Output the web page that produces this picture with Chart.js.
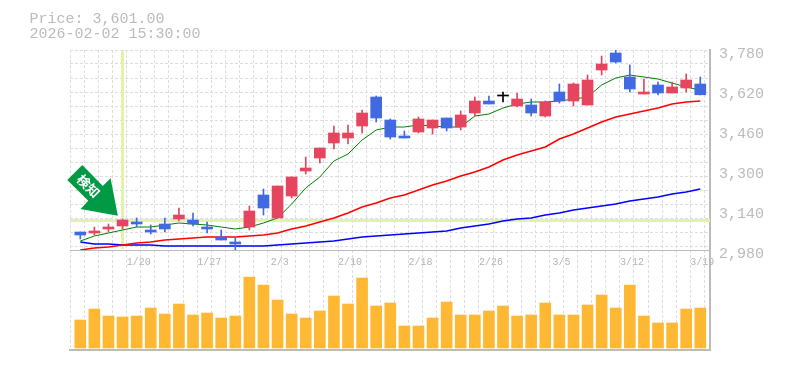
<!DOCTYPE html>
<html>
<head>
<meta charset="utf-8">
<style>html,body{margin:0;padding:0;background:#fff}#wrap{width:785px;height:370px}</style>
<script src="https://cdn.jsdelivr.net/npm/chart.js@4"></script>
</head>
<body>
<div id="wrap"><canvas id="c" width="785" height="370"></canvas></div>
<script>
const dates = ['1/14','1/15','1/16','1/19','1/20','1/21','1/22','1/23','1/26','1/27','1/28','1/29','1/30','2/2','2/3','2/4','2/5','2/6','2/9','2/10','2/12','2/13','2/16','2/17','2/18','2/19','2/20','2/24','2/25','2/26','2/27','3/2','3/3','3/4','3/5','3/6','3/9','3/10','3/11','3/12','3/13','3/16','3/17','3/18','3/19'];
const open  = [3052,3048,3064,3076,3092,3060,3084,3104,3100,3072,3032,3012,3072,3200,3108,3196,3296,3348,3408,3428,3476,3592,3500,3436,3452,3468,3508,3472,3528,3576,3596,3556,3560,3516,3612,3576,3560,3700,3768,3672,3604,3640,3608,3628,3644];
const close = [3040,3056,3072,3100,3084,3052,3064,3120,3084,3064,3020,3004,3136,3148,3236,3272,3308,3388,3448,3448,3528,3508,3432,3428,3504,3500,3468,3520,3576,3564,3596,3584,3528,3572,3576,3644,3660,3724,3732,3624,3612,3608,3632,3660,3601];
const high  = [3052,3072,3084,3104,3108,3080,3108,3148,3128,3092,3060,3028,3156,3224,3236,3272,3352,3388,3476,3480,3540,3596,3504,3456,3512,3500,3508,3536,3592,3596,3612,3608,3584,3576,3644,3648,3680,3756,3780,3720,3664,3652,3652,3684,3672];
const low   = [3024,3040,3052,3064,3072,3044,3052,3096,3076,3048,3020,2980,3060,3120,3108,3188,3284,3328,3384,3404,3448,3492,3424,3428,3448,3444,3456,3460,3516,3564,3572,3552,3516,3512,3568,3556,3560,3680,3728,3612,3604,3600,3608,3612,3600];
const ma5   = [3016,3036,3048,3060,3072,3072,3080,3088,3084,3080,3072,3064,3072,3088,3108,3164,3228,3272,3336,3364,3420,3460,3472,3472,3480,3476,3472,3472,3516,3524,3548,3564,3572,3572,3576,3584,3592,3640,3668,3680,3672,3664,3648,3632,3620];
const ma25  = [2980,2988,2992,3000,3008,3012,3020,3024,3028,3032,3032,3032,3036,3040,3048,3064,3076,3092,3108,3128,3152,3168,3188,3200,3220,3240,3256,3276,3292,3312,3340,3360,3376,3392,3424,3444,3468,3492,3512,3524,3536,3548,3564,3572,3576];
const ma75  = [3012,3004,3004,3000,3000,3000,2996,2996,2996,2996,2996,2996,2996,2996,3000,3004,3008,3012,3016,3024,3032,3036,3040,3044,3048,3052,3056,3068,3076,3084,3096,3104,3108,3120,3128,3140,3148,3156,3164,3176,3184,3192,3204,3212,3224];
const volume = [28,39,32,31,32,40,34,44,33,35,30,32,71,63,48,34,30,37,52,44,70,42,45,22,22,30,46,33,33,37,42,32,33,45,33,33,43,53,40,63,32,25,25,39,40].map(v => v * 1000);
const priceLabels = [3780,3620,3460,3300,3140,2980];
const signalIndex = 3;
const signalLevel = 3098;
const headerLines = ['Price: 3,601.00','2026-02-02 15:30:00'];
const signalText = '検知';

const MONO = '"Liberation Mono", monospace';
const UP = '#E5455F', DOWN = '#4169E1', DOJI = '#000000';
const candleColor = close.map((c,i) => c > open[i] ? UP : c < open[i] ? DOWN : DOJI);
const idx = dates.map((_,i) => i);
const pts = arr => arr.map((v,i) => ({x:i, y:v}));
const X_MIN = -0.73, X_MAX = 44.69, GRID_SHIFT = 0.29;
const line = (data,color,width,order) => ({type:'line',data:pts(data),borderColor:color,borderWidth:width,pointRadius:0,tension:0,fill:false,order,xAxisID:'x',yAxisID:'y'});
const guide = (data) => ({type:'line',data,borderColor:'#E2F3A8',borderWidth:3,pointRadius:0,tension:0,fill:false,order:20,xAxisID:'x',yAxisID:'y'});

const overlay = {
  id:'overlay',
  afterDatasetsDraw(chart){
    const ctx = chart.ctx, sx = chart.scales.x, sy = chart.scales.y;
    const tx = sx.getPixelForValue(signalIndex) - 4.7, ty = sy.getPixelForValue(signalLevel) - 4.8;
    const shape = [[0,0],[-37.3,-6.7],[-29.6,-15],[-50.6,-35.7],[-35.6,-50.7],[-15,-29.7],[-7.3,-37.4]];
    ctx.save();
    ctx.fillStyle = '#009944';
    ctx.beginPath();
    shape.forEach((p,i) => i ? ctx.lineTo(tx+p[0],ty+p[1]) : ctx.moveTo(tx+p[0],ty+p[1]));
    ctx.closePath(); ctx.fill();
    ctx.translate(tx-29.3, ty-29.7);
    ctx.rotate(Math.PI/4);
    ctx.fillStyle = '#fff';
    ctx.font = 'bold 13px "Noto Sans CJK JP"';
    ctx.textAlign = 'center'; ctx.textBaseline = 'middle';
    ctx.fillText(signalText,0,0);
    ctx.restore();
    ctx.save();
    ctx.fillStyle = '#bbbbbb';
    ctx.font = '15px '+MONO;
    ctx.textBaseline = 'alphabetic';
    headerLines.forEach((t,i) => ctx.fillText(t,29.5,23+i*15));
    ctx.restore();
  }
};

new Chart(document.getElementById('c'),{
  data:{
    datasets:[
      {type:'bar',data:idx.map(i => ({x:i,y:[open[i],close[i]]})),backgroundColor:candleColor,barThickness:11,minBarLength:1,grouped:false,order:1,xAxisID:'x',yAxisID:'y'},
      {type:'bar',data:idx.map(i => ({x:i,y:[low[i],high[i]]})),backgroundColor:candleColor,barThickness:1,grouped:false,order:2,xAxisID:'x',yAxisID:'y'},
      line(ma5,'#008000',1,5),
      line(ma25,'#FF0000',1.6,6),
      line(ma75,'#0000FF',1.6,7),
      {type:'bar',data:idx.map(i => ({x:i,y:volume[i]})),backgroundColor:'#FFB833',barThickness:11,grouped:false,order:8,xAxisID:'x',yAxisID:'vol'},
      guide([{x:signalIndex,y:2984},{x:signalIndex,y:3780}]),
      guide([{x:X_MIN,y:signalLevel},{x:X_MAX,y:signalLevel}])
    ]
  },
  options:{
    responsive:false,
    animation:false,
    layout:{padding:{left:70,top:50,right:0,bottom:20}},
    plugins:{legend:{display:false},tooltip:{enabled:false}},
    scales:{
      x:{
        type:'linear',min:X_MIN,max:X_MAX,offset:false,
        position:{y:2980},
        afterBuildTicks(s){ s.ticks = [-1].concat(idx).map(i => ({value:i+GRID_SHIFT})); },
        grid:{color:'#dddddd',lineWidth:1,drawTicks:false,offset:false},
        border:{display:true,color:'#bbbbbb',width:1,dash:[3,2]},
        ticks:{autoSkip:false,maxRotation:0,minRotation:0,padding:6,color:'#b4b4b4',font:{family:MONO,size:10},labelOffset:-2,z:1,
          callback(v,i){ const k=i-1; return k>=0 && k%5===4 ? dates[k] : ''; }}
      },
      x2:{
        type:'linear',position:'bottom',min:0,max:1,
        grid:{display:false,drawTicks:false},
        border:{display:true,color:'#bbbbbb',width:2},
        ticks:{display:false}
      },
      y:{
        type:'linear',position:'right',min:2980,max:3780,stack:'panes',stackWeight:2,
        afterBuildTicks(s){
          const grid=[]; for(let k=0;k<15;k++) grid.push(3780-56*k);
          const all = new Set(grid.concat(priceLabels));
          s.ticks = [...all].sort((a,b)=>a-b).map(v => ({value:v}));
        },
        afterFit(s){ s.width = 75; },
        grid:{drawTicks:false,lineWidth:1,color:c => (c.tick && (c.tick.value-3780)%56===0) ? '#dddddd' : 'rgba(0,0,0,0)'},
        border:{display:true,color:'#bbbbbb',width:2,dash:[3,2]},
        ticks:{autoSkip:false,padding:9,labelOffset:4,color:'#bbbbbb',font:{family:MONO,size:15},
          callback(v){ return priceLabels.includes(v) ? v.toLocaleString('en-US') : ''; }}
      },
      vol:{
        type:'linear',position:'right',min:-2000,max:98000,stack:'panes',stackWeight:1,
        afterFit(s){ s.width = 75; },
        grid:{display:false,drawTicks:false},
        border:{display:true,color:'#bbbbbb',width:2},
        ticks:{display:false}
      }
    }
  },
  plugins:[overlay]
});
</script>
</body>
</html>
